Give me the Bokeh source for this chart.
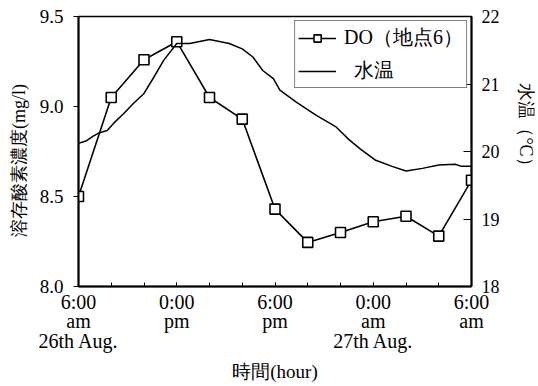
from bokeh.plotting import figure
from bokeh.models import Range1d, LinearAxis, FixedTicker, Legend, LegendItem, NumeralTickFormatter
from bokeh.embed import file_html
from bokeh.resources import INLINE

# hours after 6:00 am, 26th Aug.
do_hours = [0, 2, 4, 6, 8, 10, 12, 14, 16, 18, 20, 22, 24]
do_values = [8.50, 9.05, 9.26, 9.36, 9.05, 8.93, 8.43, 8.245, 8.30, 8.36, 8.39, 8.28, 8.59]

temp_hours = [0, 0.5, 0.85, 1.2, 1.75, 2.15, 2.75, 3.35, 4.0, 4.6, 5.2, 6.0, 6.8, 8.0,
              9.2, 10.0, 10.65, 11.25, 11.9, 12.3, 13.3, 14.5, 15.7, 16.5, 17.2, 18.15,
              19.15, 20.0, 21.0, 22.0, 23.0, 23.4, 24.0]
temp_values = [20.12, 20.16, 20.22, 20.27, 20.31, 20.42, 20.56, 20.71, 20.86, 21.10, 21.35,
               21.60, 21.60, 21.66, 21.60, 21.52, 21.40, 21.20, 21.08, 20.91, 20.73, 20.54,
               20.37, 20.18, 20.04, 19.87, 19.78, 19.71, 19.75, 19.80, 19.81, 19.78, 19.78]

x_ticks = [0, 6, 12, 18, 24]
x_tick_labels = ["6:00\nam\n26th Aug.", "0:00\npm", "6:00\npm", "0:00\nam\n27th Aug.", "6:00\nam"]
x_minor_ticks = [0, 2, 4, 6, 8, 10, 12, 14, 16, 18, 20, 22, 24]
do_ticks = [8.0, 8.5, 9.0, 9.5]
temp_ticks = [18, 19, 20, 21, 22]

x_title = "時間(hour)"
do_title = "溶存酸素濃度(mg/l)"
temp_title = "水温（°C）"

FONT = "Liberation Serif"
NB = "\u00a0"

p = figure(width=538, height=386, x_range=Range1d(0, 24), y_range=Range1d(8.0, 9.5),
           output_backend="svg", toolbar_location=None,
           min_border_left=78, min_border_right=65, min_border_top=16, min_border_bottom=100)
p.extra_y_ranges = {"temp": Range1d(18, 22)}
p.grid.visible = False
p.outline_line_color = "black"
p.outline_line_width = 1.5
p.background_fill_color = "white"
p.border_fill_color = "white"

# bottom axis
xa = p.xaxis[0]
xa.ticker = FixedTicker(ticks=x_ticks, minor_ticks=x_minor_ticks)
xa.major_label_overrides = {t: l for t, l in zip(x_ticks, x_tick_labels)}
xa.major_tick_in = 4
xa.major_tick_out = 0
xa.minor_tick_in = 4
xa.minor_tick_out = 0
xa.axis_line_width = 2
xa.axis_line_color = "black"
xa.major_tick_line_color = "black"
xa.minor_tick_line_color = "black"
xa.major_label_text_font = FONT
xa.major_label_text_font_size = "20px"
xa.major_label_text_color = "black"
xa.major_label_text_line_height = 0.9
xa.major_label_standoff = 4
xa.axis_label = x_title
xa.axis_label_text_font = FONT
xa.axis_label_text_font_size = "19px"
xa.axis_label_text_color = "black"
xa.axis_label_text_font_style = "normal"
xa.axis_label_standoff = 6

# left axis
ya = p.yaxis[0]
ya.ticker = FixedTicker(ticks=do_ticks, minor_ticks=[])
ya.formatter = NumeralTickFormatter(format="0.0")
ya.major_tick_in = 0
ya.major_tick_out = 5
ya.axis_line_width = 2
ya.axis_line_color = "black"
ya.major_tick_line_color = "black"
ya.major_label_text_font = FONT
ya.major_label_text_font_size = "19px"
ya.major_label_text_color = "black"
ya.major_label_standoff = 10
ya.axis_label = do_title + NB * 4
ya.axis_label_text_font = FONT
ya.axis_label_text_font_size = "18px"
ya.axis_label_text_color = "black"
ya.axis_label_text_font_style = "normal"
ya.axis_label_standoff = 8

# right axis
ra = LinearAxis(y_range_name="temp", ticker=FixedTicker(ticks=temp_ticks, minor_ticks=[]))
ra.major_tick_in = 8
ra.major_tick_out = 0
ra.axis_line_width = 2
ra.axis_line_color = "black"
ra.major_tick_line_color = "black"
ra.major_label_text_font = FONT
ra.major_label_text_font_size = "18px"
ra.major_label_text_color = "black"
ra.major_label_standoff = 10
ra.axis_label = temp_title + NB * 10
ra.axis_label_text_font = FONT
ra.axis_label_text_font_size = "18px"
ra.axis_label_text_color = "black"
ra.axis_label_text_font_style = "normal"
ra.axis_label_standoff = 13
p.add_layout(ra, "right")

# data
do_line = p.line(do_hours, do_values, line_color="black", line_width=1.6)
do_pts = p.scatter(do_hours, do_values, marker="square", size=10, fill_color="white",
                   line_color="black", line_width=1.6)
t_line = p.line(temp_hours, temp_values, y_range_name="temp", line_color="black", line_width=1.5)

legend = Legend(items=[LegendItem(label="DO（地点6）", renderers=[do_line, do_pts]),
                       LegendItem(label=NB * 2 + "水温", renderers=[t_line])],
                location="top_right")
legend.label_text_font = FONT
legend.label_text_font_size = "20px"
legend.label_text_color = "black"
legend.border_line_color = "black"
legend.border_line_width = 1.5
legend.background_fill_alpha = 1.0
legend.glyph_width = 38
legend.glyph_height = 18
legend.label_height = 18
legend.label_standoff = 8
legend.spacing = 6
legend.padding = 3
legend.margin = 4
p.add_layout(legend)

open("out.html", "w").write(file_html(p, INLINE))
